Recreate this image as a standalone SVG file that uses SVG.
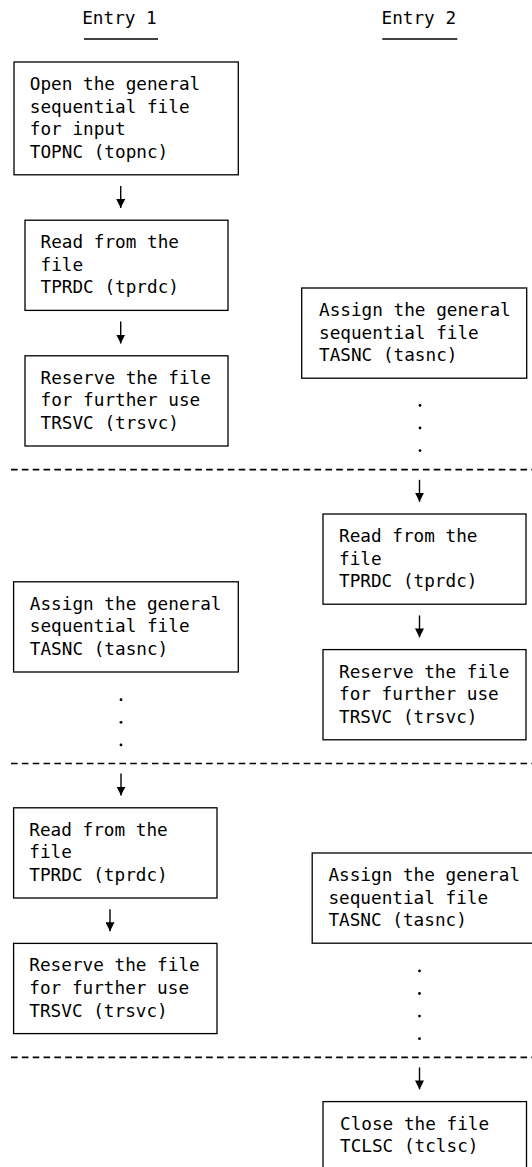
<svg xmlns="http://www.w3.org/2000/svg" width="532" height="1167" viewBox="0 0 532 1167">
<defs>
<style>
text{font-family:"DejaVu Sans Mono","Liberation Mono",monospace;font-size:17.7px;fill:#000}
.box{fill:#fff;stroke:#000;stroke-width:1.3}
.arr{stroke:#000;stroke-width:1.4;fill:none}
.sep{stroke:#000;stroke-width:1.7;stroke-dasharray:6.6 4.24}
.ul{stroke:#000;stroke-width:1.3}
.dot{fill:#000}
</style>
<marker id="ah" markerWidth="9" markerHeight="9" refX="9" refY="4.5" orient="auto" markerUnits="userSpaceOnUse"><path d="M0,0 L9,4.5 L0,9 z" fill="#000"/></marker>
</defs>
<rect width="532" height="1167" fill="#fff"/>
<g id="headers">
<text x="82.2" y="23.5">Entry 1</text>
<line class="ul" x1="84" y1="39" x2="158" y2="39"/>
<text x="381.5" y="23.5">Entry 2</text>
<line class="ul" x1="382.3" y1="39" x2="457.3" y2="39"/>
</g>
<g id="separators">
<line class="sep" x1="11" y1="469.7" x2="532" y2="469.7"/>
<line class="sep" x1="11" y1="763.5" x2="532" y2="763.5"/>
<line class="sep" x1="11" y1="1057.3" x2="532" y2="1057.3"/>
</g>
<g id="n1-open">
<rect class="box" x="14" y="62" width="224.3" height="112.8"/>
<text x="29.8" y="90">Open the general</text>
<text x="29.8" y="112.6">sequential file</text>
<text x="29.8" y="135.2">for input</text>
<text x="29.8" y="157.8">TOPNC (topnc)</text>
</g>
<g id="n1-read">
<rect class="box" x="25" y="220.2" width="203" height="90.2"/>
<text x="40.5" y="248.2">Read from the</text>
<text x="40.5" y="270.8">file</text>
<text x="40.5" y="293.4">TPRDC (tprdc)</text>
</g>
<g id="n1-reserve">
<rect class="box" x="25" y="355.8" width="203" height="90.2"/>
<text x="40.5" y="383.8">Reserve the file</text>
<text x="40.5" y="406.4">for further use</text>
<text x="40.5" y="429">TRSVC (trsvc)</text>
</g>
<g id="n2-assign">
<rect class="box" x="301.7" y="288" width="225" height="90.2"/>
<text x="319" y="316">Assign the general</text>
<text x="319" y="338.6">sequential file</text>
<text x="319" y="361.2">TASNC (tasnc)</text>
</g>
<g id="n2-read">
<rect class="box" x="323" y="514" width="203" height="90.2"/>
<text x="339" y="542">Read from the</text>
<text x="339" y="564.6">file</text>
<text x="339" y="587.2">TPRDC (tprdc)</text>
</g>
<g id="n2-reserve">
<rect class="box" x="323" y="649.6" width="203" height="90.2"/>
<text x="339" y="677.6">Reserve the file</text>
<text x="339" y="700.2">for further use</text>
<text x="339" y="722.8">TRSVC (trsvc)</text>
</g>
<g id="n1-assign">
<rect class="box" x="13.6" y="581.8" width="224.7" height="90.2"/>
<text x="29.8" y="609.8">Assign the general</text>
<text x="29.8" y="632.4">sequential file</text>
<text x="29.8" y="655">TASNC (tasnc)</text>
</g>
<g id="n1-read2">
<rect class="box" x="13.6" y="807.8" width="203.4" height="90.2"/>
<text x="29.3" y="835.8">Read from the</text>
<text x="29.3" y="858.4">file</text>
<text x="29.3" y="881">TPRDC (tprdc)</text>
</g>
<g id="n1-reserve2">
<rect class="box" x="13.6" y="943.4" width="203.4" height="90.2"/>
<text x="29.3" y="971.4">Reserve the file</text>
<text x="29.3" y="994">for further use</text>
<text x="29.3" y="1016.6">TRSVC (trsvc)</text>
</g>
<g id="n2-assign2">
<rect class="box" x="312.2" y="853" width="225" height="90.2"/>
<text x="328.4" y="881">Assign the general</text>
<text x="328.4" y="903.6">sequential file</text>
<text x="328.4" y="926.2">TASNC (tasnc)</text>
</g>
<g id="n2-close">
<rect class="box" x="323" y="1101.6" width="203.5" height="80"/>
<text x="340" y="1129.6">Close the file</text>
<text x="340" y="1152.2">TCLSC (tclsc)</text>
</g>
<g id="continuation-dots">
<circle class="dot" cx="420" cy="405.4" r="1.4"/>
<circle class="dot" cx="420" cy="428" r="1.4"/>
<circle class="dot" cx="420" cy="450.6" r="1.4"/>
<circle class="dot" cx="121" cy="699.7" r="1.4"/>
<circle class="dot" cx="121" cy="722.3" r="1.4"/>
<circle class="dot" cx="121" cy="744.9" r="1.4"/>
<circle class="dot" cx="419.5" cy="970.9" r="1.4"/>
<circle class="dot" cx="419.5" cy="993.5" r="1.4"/>
<circle class="dot" cx="419.5" cy="1016.1" r="1.4"/>
<circle class="dot" cx="419.5" cy="1038.7" r="1.4"/>
</g>
<g id="connectors">
<line class="arr" x1="120.7" y1="186" x2="120.7" y2="208" marker-end="url(#ah)"/>
<line class="arr" x1="120.7" y1="321.6" x2="120.7" y2="343.6" marker-end="url(#ah)"/>
<line class="arr" x1="419.5" y1="479.8" x2="419.5" y2="501.8" marker-end="url(#ah)"/>
<line class="arr" x1="419.5" y1="615.4" x2="419.5" y2="637.4" marker-end="url(#ah)"/>
<line class="arr" x1="121" y1="773.6" x2="121" y2="795.6" marker-end="url(#ah)"/>
<line class="arr" x1="110" y1="909.2" x2="110" y2="931.2" marker-end="url(#ah)"/>
<line class="arr" x1="419.5" y1="1067.4" x2="419.5" y2="1089.4" marker-end="url(#ah)"/>
</g>
</svg>
